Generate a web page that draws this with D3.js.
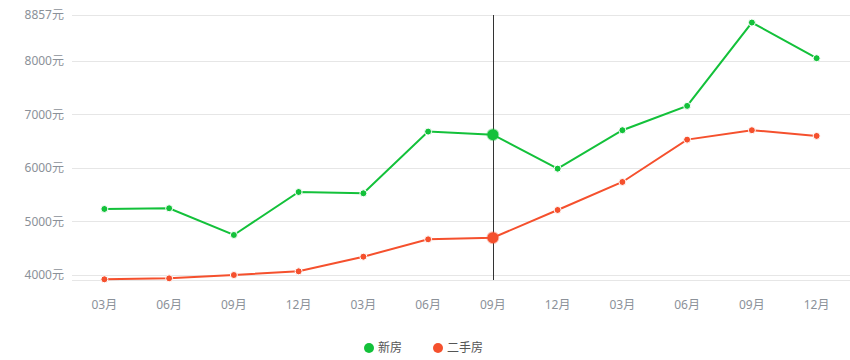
<!DOCTYPE html>
<html>
<head>
<meta charset="utf-8">
<script src="https://cdn.jsdelivr.net/npm/d3@7"></script>
<style>
  html, body { margin: 0; padding: 0; background: #fff; }
  svg { display: block; font-family: "Noto Sans", "Noto Sans CJK SC", sans-serif; }
</style>
</head>
<body>
<svg id="chart" width="850" height="360"></svg>
<script>
const categories = ["03月","06月","09月","12月","03月","06月","09月","12月","03月","06月","09月","12月"];
const newHouse = [5234, 5247, 4748, 5551, 5527, 6679, 6622, 5987, 6705, 7159, 8716, 8050];
const secondHand = [3920, 3938, 4000, 4069, 4342, 4667, 4697, 5215, 5738, 6529, 6705, 6598];
const yTicks = [4000, 5000, 6000, 7000, 8000, 8857];
const yDomain = [3907, 8857];
const seriesNames = ["新房", "二手房"];
const seriesColors = ["#13c13a", "#f5502d"];
const highlightIndex = 6;

(function () {
const svg = d3.select("#chart");
const mLeft = 72, mRight = 849, mTop = 15, mBottom = 280;

const x = d3.scaleBand().domain(d3.range(categories.length)).range([mLeft, mRight]);
const y = d3.scaleLinear().domain(yDomain).range([mBottom, mTop]);

// gridlines
svg.append("g").selectAll("line").data(yTicks).join("line")
  .attr("x1", mLeft).attr("x2", 850)
  .attr("y1", d => Math.round(y(d)) + 0.5).attr("y2", d => Math.round(y(d)) + 0.5)
  .attr("stroke", "#e6e6e6").attr("stroke-width", 1);
// bottom baseline
svg.append("line").attr("x1", mLeft).attr("x2", 850)
  .attr("y1", Math.round(y(yDomain[0])) + 0.5).attr("y2", Math.round(y(yDomain[0])) + 0.5)
  .attr("stroke", "#e6e6e6");

// y labels
svg.append("g").selectAll("text").data(yTicks).join("text")
  .attr("x", 64).attr("y", d => y(d))
  .attr("dy", "0.35em")
  .attr("text-anchor", "end")
  .attr("fill", "#8b9199").attr("font-size", 12)
  .text(d => d + "元");

// x labels
svg.append("g").selectAll("text").data(categories).join("text")
  .attr("x", (d, i) => x(i) + x.bandwidth() / 2).attr("y", 305)
  .attr("dy", "0.35em")
  .attr("text-anchor", "middle")
  .attr("fill", "#8b9199").attr("font-size", 12)
  .text(d => d);

// vertical indicator
const hx = Math.round(x(highlightIndex) + x.bandwidth() / 2) + 0.5;
svg.append("line").attr("x1", hx).attr("x2", hx).attr("y1", mTop).attr("y2", mBottom)
  .attr("stroke", "#333").attr("stroke-width", 1);

const line = d3.line().x((d, i) => x(i) + x.bandwidth() / 2).y(d => y(d));

[newHouse, secondHand].forEach((series, si) => {
  const c = seriesColors[si];
  svg.append("path").datum(series).attr("d", line)
    .attr("fill", "none").attr("stroke", c).attr("stroke-width", 2);
  svg.append("g").selectAll("circle").data(series).join("circle")
    .attr("cx", (d, i) => x(i) + x.bandwidth() / 2).attr("cy", d => y(d))
    .attr("r", (d, i) => i === highlightIndex ? 5.5 : 3.5)
    .attr("fill", c)
    .attr("stroke", (d, i) => i === highlightIndex ? d3.color(c).copy({opacity: 0.35}) : "#fff")
    .attr("stroke-width", (d, i) => i === highlightIndex ? 2 : 1);
});

// legend
const legendX = [369, 438];
legendX.forEach((lx, i) => {
  svg.append("circle").attr("cx", lx).attr("cy", 348).attr("r", 5).attr("fill", seriesColors[i]);
  svg.append("text").attr("x", lx + 9).attr("y", 348).attr("dy", "0.35em")
    .attr("fill", "#555").attr("font-size", 12).text(seriesNames[i]);
});
})();
</script>
</body>
</html>
